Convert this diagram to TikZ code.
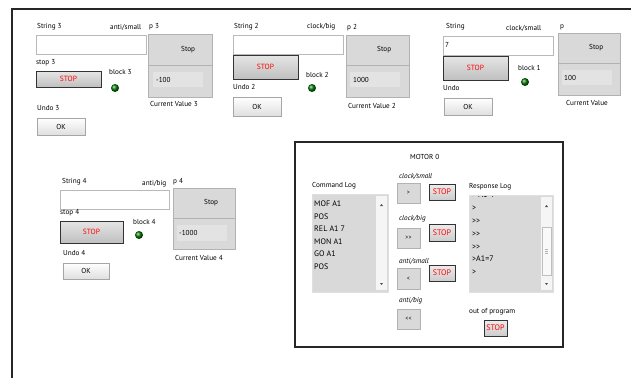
\documentclass[tikz,border=0pt]{standalone}
\usepackage{fontspec}
\setmainfont{PT Sans}
\newcommand\mkbox[7]{\node[#2,minimum width={(#5-(#3))*1pt},minimum height={(#6-(#4))*1pt},inner sep=0pt] (#1) at ({(#3+#5)/2},{(#4+#6)/2}) {#7};}
\begin{document}
\begin{tikzpicture}[x=1pt,y=-1pt,
  lbl/.style={anchor=west,inner sep=0pt,font=\fontsize{7.2}{8}\selectfont},
  ilbl/.style={lbl,font=\fontsize{7.2}{8}\selectfont\itshape},
  loglbl/.style={anchor=west,inner sep=0pt,font=\fontsize{8}{9}\selectfont},
  strbox/.style={draw=gray!55,fill=white},
  stopbtn/.style={draw=gray!40!black,line width=0.8pt,top color=gray!20,bottom color=gray!50,text=red,font=\fontsize{7.5}{8}\selectfont},
  smallstop/.style={draw=gray!40!black,line width=0.7pt,top color=gray!15,bottom color=gray!40,text=red,font=\fontsize{8}{9}\selectfont},
  okbtn/.style={draw=gray!70,top color=white,bottom color=gray!25,font=\fontsize{7.2}{8}\selectfont},
  pbox/.style={draw=gray!60,fill=gray!30},
  field/.style={fill=gray!22},
  arrbtn/.style={draw=gray!60,fill=gray!30,font=\fontsize{6}{7}\selectfont},
  led/.style={circle,minimum size=8pt,inner sep=0pt,ball color=green!45!black},
  logbox/.style={draw=gray!25,fill=gray!30},
  sbar/.style={fill=gray!8},
  frame/.style={line width=1.6pt,black!85}
]
\useasboundingbox (0,0) rectangle (631,378);
% outer frame
\coordinate (fbl) at (12,378);
\coordinate (ftl) at (12,9);
\coordinate (ftr) at (631,9);
\draw[frame] (fbl) -- (ftl) -- (ftr);

% ---------- Panel 3 ----------
\node[lbl] (l3s) at (37,27) {String 3};
\node[lbl] (l3d) at (110,27) {anti/small};
\node[lbl] (l3p) at (149,27) {p 3};
\mkbox{s3}{strbox}{36}{35}{146}{54}{}
\node[lbl] (l3stop) at (36,63) {stop 3};
\mkbox{st3}{stopbtn}{36}{71}{101}{87}{STOP}
\node[lbl] (l3b) at (109,72) {block 3};
\node[led] (led3) at (115,88) {};
\mkbox{p3a}{pbox}{148}{34}{212}{65}{}
\mkbox{p3b}{pbox}{148}{65}{212}{97}{}
\node[lbl] (p3stop) at (181,50) {Stop};
\mkbox{f3}{field}{153}{72}{203}{87}{}
\node[lbl] (v3) at (156,80) {-100};
\node[lbl] (cv3) at (150,104) {Current Value 3};
\node[lbl] (u3) at (37,108) {Undo 3};
\mkbox{ok3}{okbtn}{37}{118}{85}{135}{OK}

% ---------- Panel 2 ----------
\node[lbl] (l2s) at (234,27) {String 2};
\node[lbl] (l2d) at (307,27) {clock/big};
\node[lbl] (l2p) at (347,28) {p 2};
\mkbox{s2}{strbox}{233}{35}{343}{54}{}
\mkbox{st2}{stopbtn}{233}{55}{298}{79}{STOP}
\node[lbl] (l2b) at (306,75) {block 2};
\node[led] (led2) at (312,88) {};
\mkbox{p2a}{pbox}{346}{35}{409}{65}{}
\mkbox{p2b}{pbox}{346}{65}{409}{97}{}
\node[lbl] (p2stop) at (377,50) {Stop};
\mkbox{f2}{field}{350}{72}{400}{87}{}
\node[lbl] (v2) at (353,80) {1000};
\node[lbl] (cv2) at (348,106) {Current Value 2};
\node[lbl] (u2) at (233,87) {Undo 2};
\mkbox{ok2}{okbtn}{233}{97}{281}{116}{OK}

% ---------- Panel 1 ----------
\node[lbl] (l1s) at (446,27) {String};
\node[lbl] (l1d) at (506,28) {clock/small};
\node[lbl] (l1p) at (560,27) {p};
\mkbox{s1}{strbox}{443}{36}{553}{55}{}
\node[lbl] (s1t) at (445,45) {7};
\mkbox{st1}{stopbtn}{443}{56}{508}{80}{STOP}
\node[lbl] (l1b) at (518,68) {block 1};
\node[led] (led1) at (525,82) {};
\mkbox{p1a}{pbox}{558}{33}{620}{63}{}
\mkbox{p1b}{pbox}{558}{63}{620}{95}{}
\node[lbl] (p1stop) at (589,48) {Stop};
\mkbox{f1}{field}{562}{70}{612}{85}{}
\node[lbl] (v1) at (564,78) {100};
\node[lbl] (cv1) at (566,103) {Current Value};
\node[lbl] (u1) at (443,88) {Undo};
\mkbox{ok1}{okbtn}{444}{98}{492}{115}{OK}

% ---------- Panel 4 ----------
\node[lbl] (l4s) at (62,182) {String 4};
\node[lbl] (l4d) at (142,184) {anti/big};
\node[lbl] (l4p) at (173,182) {p 4};
\mkbox{s4}{strbox}{60}{190}{169}{209}{}
\node[lbl] (l4stop) at (60,213) {stop 4};
\mkbox{st4}{stopbtn}{60}{221}{123}{243}{STOP}
\node[lbl] (l4b) at (133,222) {block 4};
\node[led] (led4) at (139,235) {};
\mkbox{p4a}{pbox}{173}{188}{235}{218}{}
\mkbox{p4b}{pbox}{173}{218}{235}{249}{}
\node[lbl] (p4stop) at (204,203) {Stop};
\mkbox{f4}{field}{177}{225}{227}{241}{}
\node[lbl] (v4) at (179,233) {-1000};
\node[lbl] (cv4) at (175,258) {Current Value 4};
\node[lbl] (u4) at (63,253) {Undo 4};
\mkbox{ok4}{okbtn}{63}{263}{109}{279}{OK}

% ---------- Motor box ----------
\mkbox{motor}{draw=black!85,line width=1.6pt}{295}{142}{563}{347}{}
\node[lbl] (mt) at (410,157) {MOTOR 0};
\node[lbl] (cl) at (312,186) {Command Log};
\mkbox{cbox}{logbox}{312}{194}{388}{292}{}
\mkbox{cbar}{sbar}{376}{196}{387}{290}{}
\fill[gray!60!black] (380,206) -- (383,206) -- (381.5,204) -- cycle;
\fill[gray!60!black] (380,283) -- (383,283) -- (381.5,285) -- cycle;
\node[loglbl] (c1) at (314,204) {MOF A1};
\node[loglbl] (c2) at (314,216.5) {POS};
\node[loglbl] (c3) at (314,229) {REL A1 7};
\node[loglbl] (c4) at (314,241.5) {MON A1};
\node[loglbl] (c5) at (314,254) {GO A1};
\node[loglbl] (c6) at (314,267) {POS};

\node[ilbl] (m1) at (399,176) {clock/small};
\mkbox{b1}{arrbtn}{397}{183}{420}{203}{>}
\mkbox{ms1}{smallstop}{429}{184}{455}{200}{STOP}
\node[ilbl] (m2) at (399,219) {clock/big};
\mkbox{b2}{arrbtn}{397}{228}{420}{248}{>{}>}
\mkbox{ms2}{smallstop}{429}{224}{455}{241}{STOP}
\node[ilbl] (m3) at (399,261) {anti/small};
\mkbox{b3}{arrbtn}{397}{268}{420}{289}{<}
\mkbox{ms3}{smallstop}{429}{265}{455}{281}{STOP}
\node[ilbl] (m4) at (399,301) {anti/big};
\mkbox{b4}{arrbtn}{397}{309}{420}{329}{<{}<}

\node[lbl] (rl) at (469,187) {Response Log};
\mkbox{rbox}{logbox}{469}{195}{553}{292}{}
\mkbox{rbar}{sbar}{541}{197}{552}{290}{}
\mkbox{rthumb}{draw=gray!50,fill=gray!5}{542}{227}{551}{275}{}
\fill[gray!60!black] (545,207) -- (548,207) -- (546.5,205) -- cycle;
\fill[gray!60!black] (545,283) -- (548,283) -- (546.5,285) -- cycle;
\draw[gray!60,line width=0.4pt] (545,249) -- (548,249) (545,251) -- (548,251) (545,253) -- (548,253);
\begin{scope}
\clip (469,196) rectangle (540,292);
\node[loglbl] (r0) at (472,195) {> A1=7};
\end{scope}
\node[loglbl] (r1) at (472,208) {>};
\node[loglbl] (r2) at (472,221) {>{}>};
\node[loglbl] (r3) at (472,234) {>{}>};
\node[loglbl] (r4) at (472,247) {>{}>};
\node[loglbl] (r5) at (472,259) {>A1=7};
\node[loglbl] (r6) at (472,272) {>};
\node[lbl] (op) at (469,312) {out of program};
\mkbox{ms4}{smallstop}{484}{320}{507}{336}{STOP}
\end{tikzpicture}
\end{document}
